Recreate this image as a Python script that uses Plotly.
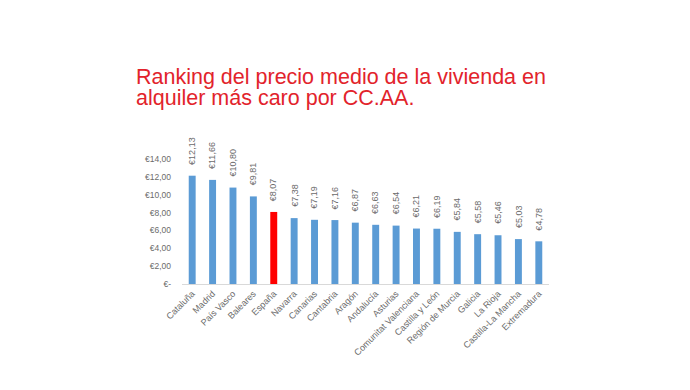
import plotly.graph_objects as go

categories = ["Cataluña", "Madrid", "País Vasco", "Baleares", "España", "Navarra",
              "Canarias", "Cantabria", "Aragón", "Andalucía", "Asturias",
              "Comunitat Valenciana", "Castilla y León", "Región de Murcia",
              "Galicia", "La Rioja", "Castilla-La Mancha", "Extremadura"]
values = [12.13, 11.66, 10.80, 9.81, 8.07, 7.38, 7.19, 7.16, 6.87, 6.63, 6.54,
          6.21, 6.19, 5.84, 5.58, 5.46, 5.03, 4.78]
value_labels = ["€12,13", "€11,66", "€10,80", "€9,81", "€8,07", "€7,38", "€7,19",
                "€7,16", "€6,87", "€6,63", "€6,54", "€6,21", "€6,19", "€5,84",
                "€5,58", "€5,46", "€5,03", "€4,78"]
tick_vals = [0, 2, 4, 6, 8, 10, 12, 14]
tick_text = ["€-", "€2,00", "€4,00", "€6,00", "€8,00", "€10,00", "€12,00", "€14,00"]
title_lines = ["Ranking del precio medio de la vivienda en",
               "alquiler más caro por CC.AA."]

BLUE = "#5b9bd5"
RED = "#ff0000"
GRAY = "#6b6b6b"
FONT = "Liberation Sans, Arial, sans-serif"

colors = [RED if c == "España" else BLUE for c in categories]

fig = go.Figure()
fig.add_trace(go.Bar(x=categories, y=values, marker=dict(color=colors, line=dict(width=0)),
                     width=0.34, hoverinfo="x+y"))

for c, v, t in zip(categories, values, value_labels):
    fig.add_annotation(x=c, y=v, text=t, textangle=-90, showarrow=False,
                       xanchor="center", yanchor="bottom", yshift=9,
                       font=dict(family=FONT, size=9, color=GRAY))

for i, line in enumerate(title_lines):
    fig.add_annotation(xref="paper", yref="paper", x=-0.13, y=1.0,
                       xanchor="left", yanchor="bottom", yshift=68 - i * 21,
                       text=line, showarrow=False,
                       font=dict(family=FONT, size=21.5, color="#e2232b"))

fig.update_layout(
    width=690, height=390,
    margin=dict(l=174, r=149, t=151, b=114),
    paper_bgcolor="white", plot_bgcolor="white",
    showlegend=False, bargap=0.66,
    xaxis=dict(showline=True, linecolor="#d9d9d9", linewidth=1, tickangle=-45,
               ticks="", showgrid=False,
               tickfont=dict(family=FONT, size=9, color=GRAY)),
    yaxis=dict(range=[0, 14], tickvals=tick_vals, ticktext=tick_text,
               showgrid=False, zeroline=False, showline=False, ticks="",
               ticklabelstandoff=10,
               tickfont=dict(family=FONT, size=8.5, color=GRAY)),
)

fig.write_html("out.html")
